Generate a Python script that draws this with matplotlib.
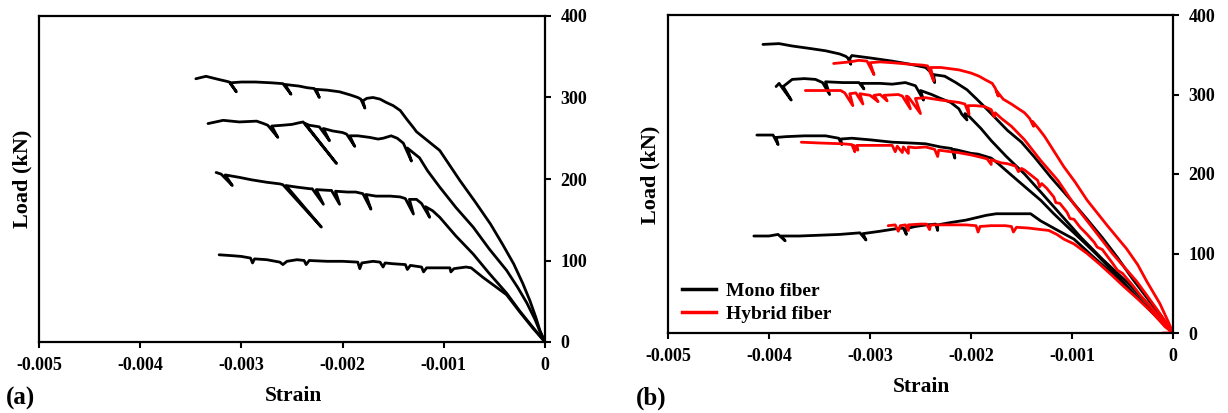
import matplotlib
matplotlib.use("Agg")
import matplotlib.pyplot as plt
from matplotlib.lines import Line2D

plt.rcParams['font.family'] = ['Liberation Serif', 'DejaVu Serif']
plt.rcParams['font.weight'] = 'bold'

# ---------------- data: (strain, load kN) ----------------
# Panel (a)
a1 = [(-0.00345,323),(-0.00335,326),(-0.00322,322),(-0.00315,320),(-0.00312,319),(-0.00305,307),(-0.00311,318),
      (-0.00300,319),(-0.00286,319),(-0.00270,318),(-0.00259,317),(-0.00251,304),(-0.00257,316),(-0.00243,314),
      (-0.00235,312),(-0.00228,311),(-0.00223,300),(-0.00226,310),(-0.00215,309),(-0.00203,307),(-0.00192,303),
      (-0.00185,300),(-0.00182,298),(-0.00178,287),(-0.00180,296),(-0.00176,299),(-0.00170,300),(-0.00163,298),
      (-0.00157,294),(-0.00150,290),(-0.00143,284),(-0.00137,274),(-0.00130,263),(-0.00127,258),(-0.00120,251),
      (-0.00112,243),(-0.00104,235),(-0.00084,198),(-0.00069,172),(-0.00054,145),(-0.00042,120),(-0.00031,96),
      (-0.00022,72),(-0.00015,51),(-0.00009,30),(-0.00005,14),(0,0)]
a2 = [(-0.00333,268),(-0.00318,272),(-0.00302,270),(-0.00285,271),(-0.00278,268),(-0.00274,266),(-0.00264,251),
      (-0.00270,265),(-0.00259,266),(-0.00250,267),(-0.00243,269),(-0.00239,270),(-0.00206,219),(-0.00237,268),
      (-0.00233,266),(-0.00223,264),(-0.00213,247),(-0.00219,262),(-0.00210,259),(-0.00200,257),(-0.00196,255),
      (-0.00188,240),(-0.00193,253),(-0.00185,253),(-0.00173,251),(-0.00165,249),(-0.00160,250),(-0.00152,253),
      (-0.00146,250),(-0.00140,244),(-0.00132,222),(-0.00136,238),(-0.00130,232),(-0.00124,226),(-0.00116,210),
      (-0.00104,190),(-0.00088,165),(-0.00071,141),(-0.00055,114),(-0.00038,88),(-0.00027,67),(-0.00018,48),
      (-0.00010,28),(-0.00005,13),(0,0)]
a3 = [(-0.00325,208),(-0.00320,206),(-0.00309,192),(-0.00316,205),(-0.00302,202),(-0.00290,199),(-0.00275,196),
      (-0.00262,194),(-0.00259,193),(-0.00221,141),(-0.00256,192),(-0.00245,190),(-0.00232,188),(-0.00230,188),
      (-0.00219,169),(-0.00226,187),(-0.00213,186),(-0.00211,186),(-0.00203,169),(-0.00207,185),(-0.00195,184),
      (-0.00187,184),(-0.00180,182),(-0.00172,163),(-0.00177,181),(-0.00167,179),(-0.00153,179),(-0.00143,178),
      (-0.00138,176),(-0.00130,157),(-0.00134,175),(-0.00127,175),(-0.00122,170),(-0.00114,153),(-0.00118,166),
      (-0.00111,161),(-0.00104,153),(-0.00088,130),(-0.00071,108),(-0.00055,84),(-0.00038,60),(-0.00025,38),
      (-0.00012,18),(0,0)]
a4 = [(-0.00322,107),(-0.00310,106),(-0.00300,105),(-0.00291,103),(-0.00289,97),(-0.00287,102),(-0.00275,101),
      (-0.00262,98),(-0.00259,95),(-0.00255,99),(-0.00245,101),(-0.00238,100),(-0.00236,95),(-0.00233,100),
      (-0.00215,99),(-0.00200,99),(-0.00185,98),(-0.00183,90),(-0.00181,97),(-0.00170,99),(-0.00163,98),
      (-0.00160,92),(-0.00158,97),(-0.00150,96),(-0.00138,95),(-0.00136,89),(-0.00133,94),(-0.00122,92),
      (-0.00120,86),(-0.00117,91),(-0.00105,91),(-0.00094,91),(-0.00093,86),(-0.00090,90),(-0.00078,92),
      (-0.00073,91),(-0.00067,85),(-0.00061,79),(-0.00050,69),(-0.00038,58),(-0.00025,37),(-0.00012,17),(0,0)]

# Panel (b) - mono fiber
b1 = [(-0.00406,363),(-0.00390,364),(-0.00377,361),(-0.00360,358),(-0.00344,355),(-0.00330,351),(-0.00324,348),
      (-0.00322,346),(-0.00319,338),(-0.00320,345),(-0.00318,349),(-0.00300,346),(-0.00278,342),(-0.00260,338),
      (-0.00245,334),(-0.00239,327),(-0.00236,315),(-0.00237,325),(-0.00226,323),(-0.00215,315),(-0.00204,306),
      (-0.00195,295),(-0.00187,285),(-0.00177,272),(-0.00164,255),(-0.00150,240),(-0.00137,221),(-0.00121,196),
      (-0.00101,167),(-0.00085,143),(-0.00070,120),(-0.00055,95),(-0.00040,68),(-0.00025,43),(-0.00012,22),(0,0)]
b2 = [(-0.00393,310),(-0.00390,314),(-0.00385,305),(-0.00378,293),(-0.00386,310),(-0.00377,319),(-0.00365,320),
      (-0.00354,319),(-0.00347,315),(-0.00340,300),(-0.00344,316),(-0.00327,315),(-0.00311,315),(-0.00306,307),
      (-0.00309,314),(-0.00290,314),(-0.00278,313),(-0.00265,315),(-0.00255,311),(-0.00247,293),(-0.00250,305),
      (-0.00239,300),(-0.00230,295),(-0.00220,290),(-0.00212,282),(-0.00209,275),(-0.00204,268),(-0.00206,276),
      (-0.00203,274),(-0.00190,257),(-0.00180,242),(-0.00165,222),(-0.00147,200),(-0.00130,176),(-0.00114,153),
      (-0.00091,120),(-0.00070,93),(-0.00044,62),(-0.00020,30),(0,0)]
b3 = [(-0.00412,249),(-0.00396,249),(-0.00391,237),(-0.00393,246),(-0.00383,247),(-0.00365,248),(-0.00344,248),
      (-0.00331,245),(-0.00328,237),(-0.00329,244),(-0.00318,245),(-0.00300,243),(-0.00278,240),(-0.00260,239),
      (-0.00245,238),(-0.00230,234),(-0.00219,232),(-0.00216,220),(-0.00217,231),(-0.00213,230),(-0.00200,226),
      (-0.00193,225),(-0.00180,220),(-0.00173,213),(-0.00164,203),(-0.00154,192),(-0.00143,180),(-0.00131,167),
      (-0.00118,150),(-0.00104,133),(-0.00088,114),(-0.00075,98),(-0.00060,78),(-0.00045,58),(-0.00030,38),
      (-0.00015,19),(0,0)]
b4 = [(-0.00415,122),(-0.00400,122),(-0.00391,124),(-0.00384,116),(-0.00388,122),(-0.00370,122),(-0.00350,123),
      (-0.00330,124),(-0.00310,126),(-0.00304,117),(-0.00307,125),(-0.00290,128),(-0.00275,131),(-0.00267,132),
      (-0.00264,124),(-0.00265,131),(-0.00255,134),(-0.00244,136),(-0.00235,137),(-0.00233,129),(-0.00233,136),
      (-0.00220,139),(-0.00205,142),(-0.00195,145),(-0.00185,148),(-0.00175,150),(-0.00160,150),(-0.00141,150),
      (-0.00131,141),(-0.00114,129),(-0.00098,118),(-0.00080,97),(-0.00065,80),(-0.00050,62),(-0.00035,44),
      (-0.00020,25),(0,0)]

# Panel (b) - hybrid fiber
r1 = [(-0.00336,339),(-0.00320,341),(-0.00311,343),(-0.00303,342),(-0.00296,325),(-0.00300,340),(-0.00290,341),
      (-0.00278,340),(-0.00260,338),(-0.00248,337),(-0.00243,336),(-0.00237,317),(-0.00240,334),(-0.00230,334),
      (-0.00212,331),(-0.00200,327),(-0.00192,323),(-0.00185,318),(-0.00179,314),(-0.00176,308),(-0.00173,298),
      (-0.00175,305),(-0.00168,294),(-0.00160,288),(-0.00147,277),(-0.00142,270),(-0.00138,260),(-0.00139,266),
      (-0.00133,257),(-0.00127,247),(-0.00118,229),(-0.00108,209),(-0.00097,190),(-0.00085,167),(-0.00065,135),
      (-0.00046,106),(-0.00035,86),(-0.00026,65),(-0.00013,37),(-0.00005,15),(0,0)]
r2 = [(-0.00364,305),(-0.00345,305),(-0.00329,305),(-0.00325,302),(-0.00317,286),(-0.00320,301),(-0.00314,302),
      (-0.00307,288),(-0.00310,301),(-0.00305,300),(-0.00300,299),(-0.00292,291),(-0.00296,299),(-0.00290,300),
      (-0.00283,292),(-0.00286,299),(-0.00272,300),(-0.00268,298),(-0.00260,282),(-0.00264,298),(-0.00262,297),
      (-0.00250,276),(-0.00255,295),(-0.00245,296),(-0.00230,293),(-0.00212,290),(-0.00206,288),(-0.00202,275),
      (-0.00203,286),(-0.00196,286),(-0.00187,285),(-0.00180,281),(-0.00177,272),(-0.00176,277),(-0.00170,270),
      (-0.00160,260),(-0.00147,243),(-0.00131,217),(-0.00114,192),(-0.00098,162),(-0.00085,141),(-0.00060,100),
      (-0.00036,65),(-0.00016,30),(0,0)]
r3 = [(-0.00368,240),(-0.00350,239),(-0.00327,238),(-0.00318,237),(-0.00315,228),(-0.00316,236),(-0.00312,230),
      (-0.00313,236),(-0.00300,236),(-0.00285,236),(-0.00278,236),(-0.00275,228),(-0.00273,235),(-0.00268,227),
      (-0.00267,234),(-0.00262,226),(-0.00262,234),(-0.00255,233),(-0.00245,234),(-0.00236,231),(-0.00233,222),
      (-0.00232,230),(-0.00220,228),(-0.00213,227),(-0.00200,224),(-0.00190,221),(-0.00184,219),(-0.00180,212),
      (-0.00180,218),(-0.00170,214),(-0.00164,213),(-0.00156,210),(-0.00153,203),(-0.00150,207),(-0.00147,205),
      (-0.00140,198),(-0.00134,192),(-0.00132,184),(-0.00130,188),(-0.00125,182),(-0.00118,171),(-0.00116,164),
      (-0.00112,163),(-0.00105,152),(-0.00102,144),(-0.00098,143),(-0.00092,133),(-0.00085,124),(-0.00078,114),
      (-0.00075,108),(-0.00070,105),(-0.00060,88),(-0.00055,79),(-0.00050,75),(-0.00040,60),(-0.00032,47),
      (-0.00020,30),(-0.00010,14),(0,0)]
r4 = [(-0.00282,135),(-0.00275,136),(-0.00272,128),(-0.00270,135),(-0.00265,136),(-0.00262,129),(-0.00262,136),
      (-0.00250,137),(-0.00244,137),(-0.00241,130),(-0.00240,136),(-0.00225,136),(-0.00205,136),(-0.00195,135),
      (-0.00193,127),(-0.00191,134),(-0.00180,135),(-0.00166,135),(-0.00160,134),(-0.00158,127),(-0.00155,133),
      (-0.00143,132),(-0.00130,130),(-0.00123,129),(-0.00115,124),(-0.00108,118),(-0.00098,112),(-0.00085,100),
      (-0.00073,87),(-0.00060,72),(-0.00050,60),(-0.00035,43),(-0.00020,25),(-0.00008,8),(0,0),(-0.00010,0)]

panel_a_curves = [a1, a2, a3, a4]
mono_curves = [b1, b2, b3, b4]
hybrid_curves = [r1, r2, r3, r4]

x_ticks = [-0.005, -0.004, -0.003, -0.002, -0.001, 0]
x_tick_labels = ['-0.005', '-0.004', '-0.003', '-0.002', '-0.001', '0']
y_ticks = [0, 100, 200, 300, 400]
y_tick_labels = ['0', '100', '200', '300', '400']
legend_labels = ['Mono fiber', 'Hybrid fiber']

# ---------------- figure ----------------
W, H = 1228, 413
fig = plt.figure(figsize=(W / 100, H / 100), dpi=100)

def px_axes(l, r, t, b):
    return fig.add_axes([l / W, 1 - b / H, (r - l) / W, (b - t) / H])

ax_a = px_axes(39, 545, 16, 342)
ax_b = px_axes(668, 1173, 15, 333)

LW = 2.0
for c in panel_a_curves:
    s, l = zip(*c)
    ax_a.plot(s, l, color='black', lw=LW, solid_joinstyle='round', solid_capstyle='round')
for c in mono_curves:
    s, l = zip(*c)
    ax_b.plot(s, l, color='black', lw=LW, solid_joinstyle='round', solid_capstyle='round')
for c in hybrid_curves:
    s, l = zip(*c)
    ax_b.plot(s, l, color='#ff0000', lw=LW, solid_joinstyle='round', solid_capstyle='round')

for ax in (ax_a, ax_b):
    ax.set_xlim(-0.005, 0)
    ax.set_ylim(0, 400)
    ax.set_xticks(x_ticks)
    ax.set_xticklabels(x_tick_labels)
    ax.yaxis.tick_right()
    ax.set_yticks(y_ticks)
    ax.set_yticklabels(y_tick_labels)
    ax.tick_params(axis='both', direction='out', length=4, width=1.5, labelsize=13, pad=7)
    for sp in ax.spines.values():
        sp.set_linewidth(1.6)
    for lab in ax.get_xticklabels() + ax.get_yticklabels():
        lab.set_fontweight('bold')

handles = [Line2D([], [], color='black', lw=2.5), Line2D([], [], color='#ff0000', lw=2.5)]
ax_b.legend(handles, legend_labels, loc='lower left', bbox_to_anchor=(0.012, 0.008),
            frameon=False, prop={'size': 14, 'weight': 'bold'}, handlelength=1.75,
            handletextpad=0.5, labelspacing=0.25, borderaxespad=0)

# axis labels and panel labels
fig.text(22 / W, 1 - 179 / H, 'Load (kN)', rotation=90, ha='center', va='center', fontsize=16, fontweight='bold')
fig.text(650 / W, 1 - 175 / H, 'Load (kN)', rotation=90, ha='center', va='center', fontsize=16, fontweight='bold')
fig.text(293 / W, 1 - 396 / H, 'Strain', ha='center', va='center', fontsize=15.5, fontweight='bold')
fig.text(921 / W, 1 - 387 / H, 'Strain', ha='center', va='center', fontsize=15.5, fontweight='bold')
fig.text(6 / W, 1 - 398 / H, '(a)', ha='left', va='center', fontsize=18, fontweight='bold')
fig.text(636 / W, 1 - 398 / H, '(b)', ha='left', va='center', fontsize=18, fontweight='bold')

fig.savefig('out.png', dpi=100)
